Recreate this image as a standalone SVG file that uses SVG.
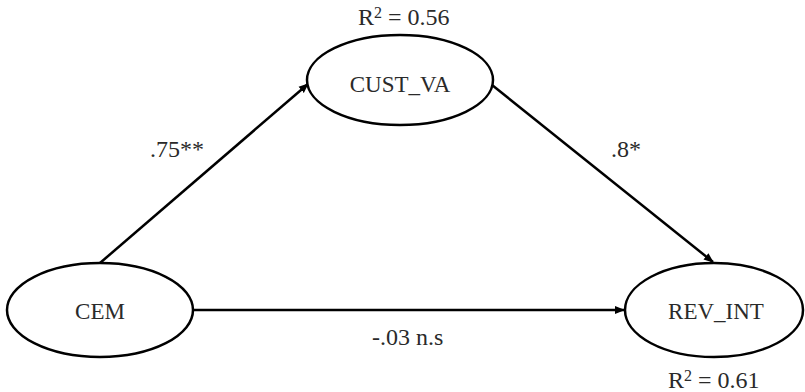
<svg xmlns="http://www.w3.org/2000/svg" width="805" height="392" viewBox="0 0 805 392" font-family="'Liberation Serif', 'Times New Roman', serif">
  <style>
    .node { fill: #ffffff; stroke: #000000; stroke-width: 2.5; }
    .edge { fill: none; stroke: #000000; stroke-width: 2.5; }
    text { font-family: 'Liberation Serif', 'Times New Roman', serif; fill: #2a2a2a; }
    .lbl { font-size: 23px; text-anchor: middle; }
    .coef { font-size: 24px; }
    .sup { font-size: 16px; }
  </style>
  <defs>
    <marker id="arrow" viewBox="0 0 10 10" refX="9" refY="5" markerWidth="4" markerHeight="4" orient="auto" markerUnits="strokeWidth">
      <path d="M0,1 L10,5 L0,9 z" fill="#000000"/>
    </marker>
  </defs>
  <rect width="805" height="392" fill="#ffffff"/>

  <g id="connectors">
    <line class="edge" x1="100" y1="263" x2="308" y2="84" marker-end="url(#arrow)"/>
    <line class="edge" x1="492" y1="85" x2="713" y2="262" marker-end="url(#arrow)"/>
    <line class="edge" x1="193" y1="310" x2="624" y2="310" marker-end="url(#arrow)"/>
    <text class="coef" x="150" y="157">.75**</text>
    <text class="coef" x="611" y="157">.8*</text>
    <text class="coef" x="372" y="345">-.03 n.s</text>
  </g>

  <g id="cust_va">
    <ellipse class="node" cx="400" cy="80" rx="93" ry="45"/>
    <text class="lbl" x="400" y="92">CUST_VA</text>
    <text class="coef" x="358" y="25">R<tspan class="sup" dy="-7">2</tspan><tspan dy="7"> = 0.56</tspan></text>
  </g>

  <g id="cem">
    <ellipse class="node" cx="100" cy="310" rx="93" ry="47"/>
    <text class="lbl" x="100" y="319">CEM</text>
  </g>

  <g id="rev_int">
    <ellipse class="node" cx="714" cy="310" rx="89" ry="47"/>
    <text class="lbl" x="716" y="319">REV_INT</text>
    <text class="coef" x="668" y="388">R<tspan class="sup" dy="-7">2</tspan><tspan dy="7"> = 0.61</tspan></text>
  </g>
</svg>
